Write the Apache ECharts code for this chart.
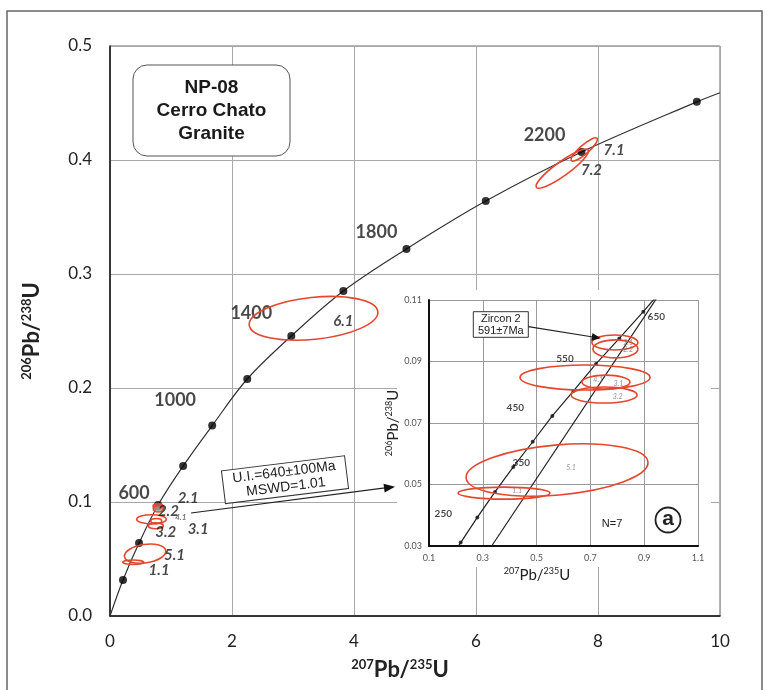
<!DOCTYPE html>
<html>
<head>
<meta charset="utf-8">
<script src="https://cdn.jsdelivr.net/npm/echarts@6/dist/echarts.min.js"></script>
<style>
html, body { margin: 0; padding: 0; background: #fff; }
#main { width: 769px; height: 690px; }
</style>
</head>
<body>
<div id="main"></div>
<script>
// ---------------- data ----------------
// concordia points of the main diagram (Ma, 207Pb/235U, 206Pb/238U)
var mainAges = [200, 400, 600, 800, 1000, 1200, 1400, 1600, 1800, 2000, 2200, 2400];
var mainX = [0.213, 0.476, 0.788, 1.199, 1.675, 2.250, 2.972, 3.826, 4.860, 6.160, 7.730, 9.620];
var mainY = [0.0316, 0.0640, 0.0974, 0.1316, 0.1670, 0.2079, 0.2456, 0.2851, 0.3220, 0.3640, 0.4070, 0.4510];
var mainAgeTags = [600, 1000, 1400, 1800, 2200];
// curve runs from the origin to the right frame
var mainCurveX = [0].concat(mainX, [10.0]);
var mainCurveY = [0].concat(mainY, [0.459]);

// concordia points of inset (a)
var insetAges = [200, 250, 300, 350, 400, 450, 500, 550, 600, 650];
var insetX = [0.2178, 0.2796, 0.3454, 0.4134, 0.4855, 0.5584, 0.6364, 0.7208, 0.8074, 0.8967];
var insetY = [0.0311, 0.0393, 0.0476, 0.0557, 0.0639, 0.0723, 0.0804, 0.0892, 0.0975, 0.1062];
var insetAgeTags = [250, 350, 450, 550, 650];
var insetCurveX = [0.209].concat(insetX, [0.940]);
var insetCurveY = [0.030].concat(insetY, [0.1106]);
// discordia through the data
var discordX = [0.333, 0.9465];
var discordY = [0.030, 0.1106];

// analysed spots: centre, half major axis (dx, dy) and half minor axis
var spotNames = ['1.1', '2.1', '2.2', '3.1', '3.2', '4.1', '5.1', '6.1', '7.1', '7.2'];
var spotX = [0.379, 0.791, 0.793, 0.758, 0.751, 0.680, 0.576, 3.337, 7.775, 7.414];
var spotY = [0.0472, 0.0962, 0.0941, 0.0833, 0.0791, 0.0848, 0.0547, 0.2611, 0.4092, 0.3924];
var spotDx = [0.171, 0.0855, 0.0836, 0.0892, 0.1227, 0.2416, 0.338, 1.054, 0.210, 0.424];
var spotDy = [0, 0, 0, 0, 0, 0, 0.0026, 0.00588, 0.00982, 0.0164];
var spotMinor = [0.00195, 0.00244, 0.00293, 0.00228, 0.0026, 0.00407, 0.00813, 0.0184, 0.00395, 0.00614];

// where the spot names sit
var tagX = [0.805, 1.281, 0.957, 1.445, 0.915, 1.161, 1.056, 3.826, 8.264, 7.893];
var tagY = [0.0404, 0.1032, 0.0923, 0.0763, 0.0734, 0.0865, 0.0533, 0.2590, 0.4088, 0.3912];
var insetTagX = [0.428, 0.840, 0.840, 0.804, 0.801, 0.729, 0.628];
var insetTagY = [0.0480, 0.0960, 0.0937, 0.0829, 0.0784, 0.0842, 0.0553];

var mainTicksX = [0, 10, 2];
var mainTicksY = [0, 0.5, 0.1];
var insetTicksX = [0.1, 1.1, 0.2];
var insetTicksY = [0.03, 0.11, 0.02];

// ---------------- chart ----------------
var chart = echarts.init(document.getElementById('main'));

var red = '#e4472d';
var ageTagOffset = {600: [-24, -12], 1000: [-37, -25], 1400: [-40, -23], 1800: [-30, -17], 2200: [-37, -17]};
var insetTagOffset = {250: [-34, -4], 350: [8, -4], 450: [-37, -8], 550: [-31, -5], 650: [13, 5]};

function ellipseRenderer(inset) {
    return function (params, api) {
        var c = api.coord([api.value(0), api.value(1)]);
        var e = api.coord([api.value(0) + api.value(2), api.value(1) + api.value(3)]);
        var dx = e[0] - c[0], dy = e[1] - c[1];
        var ry = api.size([0, api.value(4)])[1];
        var gray = !inset && spotNames[api.value(5)].charAt(0) === '2';
        return {
            type: 'ellipse',
            x: c[0],
            y: c[1],
            rotation: -Math.atan2(dy, dx),
            shape: {cx: 0, cy: 0, rx: Math.sqrt(dx * dx + dy * dy), ry: ry},
            style: {
                fill: gray ? 'rgba(150,150,150,0.75)' : 'none',
                stroke: red,
                lineWidth: 1.6
            }
        };
    };
}

var spotData = spotNames.map(function (n, i) {
    return [spotX[i], spotY[i], spotDx[i], spotDy[i], spotMinor[i], i];
});

function pairs(xs, ys) {
    return xs.map(function (x, i) { return [x, ys[i]]; });
}

function arrowHead(x0, y0, x1, y1, len, half) {
    var dx = x1 - x0, dy = y1 - y0;
    var l = Math.sqrt(dx * dx + dy * dy);
    var ux = dx / l, uy = dy / l;
    var bx = x1 - ux * len, by = y1 - uy * len;
    return [[x1, y1], [bx - uy * half, by + ux * half], [bx + uy * half, by - ux * half]];
}

var supRich = function (big, small, lh) {
    return {
        s: {fontSize: small, fontWeight: 'bold', fontFamily: 'Lato', color: '#222', verticalAlign: 'top', lineHeight: small + 1},
        b: {fontSize: big, fontWeight: 'bold', fontFamily: 'Lato', color: '#222', lineHeight: lh}
    };
};
var supRichLight = function (big, small, lh) {
    return {
        s: {fontSize: small, fontFamily: 'Lato', color: '#222', verticalAlign: 'top', lineHeight: small + 1},
        b: {fontSize: big, fontFamily: 'Lato', color: '#222', lineHeight: lh}
    };
};

var uiHead = arrowHead(191, 513, 395, 486.7, 11, 4.5);
var zrHead = arrowHead(528.3, 326.7, 600.7, 338.3, 9, 4);

var option = {
    backgroundColor: '#fff',
    animation: false,
    grid: [
        {left: 110, top: 46, width: 610, height: 570, show: true, borderColor: '#666', borderWidth: 1},
        {left: 429, top: 300, width: 269, height: 246}
    ],
    xAxis: [{
        gridIndex: 0, type: 'value',
        min: mainTicksX[0], max: mainTicksX[1], interval: mainTicksX[2],
        axisLine: {show: true, onZero: false, lineStyle: {color: '#111', width: 1.5}},
        axisTick: {show: false},
        splitLine: {lineStyle: {color: '#a8a8a8'}},
        axisLabel: {fontFamily: 'Lato', fontSize: 17, color: '#222', margin: 17},
        name: '{s|207}{b|Pb/}{s|235}{b|U}',
        nameLocation: 'middle',
        nameGap: 42,
        nameTextStyle: {padding: [0, 30, 0, 0], rich: supRich(22, 13, 24)}
    }, {
        gridIndex: 1, type: 'value', z: 3,
        min: insetTicksX[0], max: insetTicksX[1], interval: insetTicksX[2],
        axisLine: {show: true, onZero: false, lineStyle: {color: '#111', width: 2}},
        axisTick: {show: false},
        splitLine: {lineStyle: {color: '#9a9a9a'}},
        axisLabel: {fontFamily: 'Lato', fontSize: 9, color: '#555', margin: 8,
            formatter: function (v) { return v.toFixed(1); }},
        name: '{s|207}{b|Pb/}{s|235}{b|U}',
        nameLocation: 'middle',
        nameGap: 21,
        nameTextStyle: {padding: [0, 53, 0, 0], rich: supRichLight(15, 9, 16)}
    }],
    yAxis: [{
        gridIndex: 0, type: 'value',
        min: mainTicksY[0], max: mainTicksY[1], interval: mainTicksY[2],
        axisLine: {show: true, onZero: false, lineStyle: {color: '#111', width: 1.5}},
        axisTick: {show: false},
        splitLine: {lineStyle: {color: '#a8a8a8'}},
        axisLabel: {fontFamily: 'Lato', fontSize: 17, color: '#222', margin: 18,
            formatter: function (v) { return v.toFixed(1); }},
        name: '{s|206}{b|Pb/}{s|238}{b|U}',
        nameLocation: 'middle',
        nameGap: 66,
        nameTextStyle: {rich: supRich(22, 13, 24)}
    }, {
        gridIndex: 1, type: 'value', z: 3,
        min: insetTicksY[0], max: insetTicksY[1], interval: insetTicksY[2],
        axisLine: {show: true, onZero: false, lineStyle: {color: '#111', width: 2}},
        axisTick: {show: false},
        splitLine: {lineStyle: {color: '#9a9a9a'}},
        axisLabel: {fontFamily: 'Lato', fontSize: 9, color: '#555', margin: 7,
            formatter: function (v) { return v.toFixed(2); }},
        name: '{s|206}{b|Pb/}{s|238}{b|U}',
        nameLocation: 'middle',
        nameGap: 22,
        nameTextStyle: {rich: supRichLight(15, 9, 16)}
    }],
    graphic: [
        // page frame
        {type: 'rect', z: 0, shape: {x: 7, y: 11, width: 755, height: 700},
            style: {fill: 'none', stroke: '#666', lineWidth: 1.5}},
        // sample box
        {type: 'rect', z: 5, shape: {x: 133, y: 65, width: 157, height: 91, r: 14},
            style: {fill: '#fff', stroke: '#555', lineWidth: 1}},
        {type: 'text', z: 6, x: 211.5, y: 110.5,
            style: {text: 'NP-08\nCerro Chato\nGranite', fontFamily: 'Liberation Sans', fontWeight: 'bold',
                fontSize: 19, lineHeight: 23, fill: '#1a1a1a', align: 'center', verticalAlign: 'middle'}},
        // white backing for the inset
        {type: 'rect', z: 1, shape: {x: 397, y: 290, width: 314, height: 277},
            style: {fill: '#fff'}},
        // upper intercept box and arrow
        {type: 'line', z: 6, shape: {x1: 191, y1: 513, x2: uiHead[0][0] - 8, y2: uiHead[0][1] + 1},
            style: {stroke: '#222', lineWidth: 1.2}},
        {type: 'polygon', z: 6, shape: {points: uiHead}, style: {fill: '#111'}},
        {type: 'group', z: 6, x: 285, y: 479.7, rotation: 0.122, children: [
            {type: 'rect', z: 6, shape: {x: -62, y: -16.5, width: 124, height: 33},
                style: {fill: '#fff', stroke: '#333', lineWidth: 1}},
            {type: 'text', z: 7, x: 0, y: 0,
                style: {text: 'U.I.=640±100Ma\nMSWD=1.01', fontFamily: 'Liberation Sans', fontSize: 14,
                    lineHeight: 15, fill: '#222', align: 'center', verticalAlign: 'middle'}}
        ]},
        // zircon 2 call-out in the inset
        {type: 'rect', z: 8, shape: {x: 473.3, y: 311.7, width: 55, height: 25.6},
            style: {fill: '#fff', stroke: '#333', lineWidth: 1}},
        {type: 'text', z: 9, x: 500.8, y: 324.5,
            style: {text: 'Zircon 2\n591±7Ma', fontFamily: 'Liberation Sans', fontSize: 11,
                lineHeight: 12, fill: '#222', align: 'center', verticalAlign: 'middle'}},
        {type: 'line', z: 8, shape: {x1: 528.3, y1: 326.7, x2: 593, y2: 337},
            style: {stroke: '#222', lineWidth: 1.2}},
        {type: 'polygon', z: 8, shape: {points: zrHead}, style: {fill: '#111'}},
        {type: 'text', z: 8, x: 612, y: 524,
            style: {text: 'N=7', fontFamily: 'Liberation Sans', fontSize: 11, fill: '#222',
                align: 'center', verticalAlign: 'middle'}},
        {type: 'circle', z: 8, shape: {cx: 668, cy: 520, r: 12.5},
            style: {fill: '#fff', stroke: '#222', lineWidth: 1.8}},
        {type: 'text', z: 9, x: 668, y: 519,
            style: {text: 'a', fontFamily: 'Liberation Sans', fontWeight: 'bold', fontSize: 21, fill: '#222',
                align: 'center', verticalAlign: 'middle'}}
    ],
    series: [
        // ---------- main diagram ----------
        {
            type: 'line', xAxisIndex: 0, yAxisIndex: 0, z: 2,
            data: pairs(mainCurveX, mainCurveY),
            smooth: 0.35, showSymbol: false,
            lineStyle: {color: '#333', width: 1.2}
        },
        {
            type: 'scatter', xAxisIndex: 0, yAxisIndex: 0, z: 3,
            symbolSize: 8, itemStyle: {color: '#000'},
            data: mainAges.map(function (a, i) {
                var item = {value: [mainX[i], mainY[i], a]};
                if (mainAgeTags.indexOf(a) >= 0) {
                    item.label = {show: true, position: 'inside', offset: ageTagOffset[a],
                        formatter: String(a), fontFamily: 'Lato', fontWeight: 'bold', fontSize: 18, color: '#1a1a1a'};
                }
                return item;
            })
        },
        {
            type: 'custom', xAxisIndex: 0, yAxisIndex: 0, z: 4, clip: true,
            renderItem: ellipseRenderer(false),
            data: spotData
        },
        {
            type: 'scatter', xAxisIndex: 0, yAxisIndex: 0, z: 5,
            symbolSize: 0, silent: true,
            data: spotNames.map(function (n, i) {
                var small = n === '4.1';
                return {
                    value: [tagX[i], tagY[i]],
                    label: {show: true, position: 'inside', formatter: n,
                        fontFamily: 'Lato', fontStyle: 'italic', fontWeight: 'bold',
                        fontSize: small ? 8 : 15, color: small ? '#555' : '#1a1a1a'}
                };
            })
        },
        // ---------- inset (a) ----------
        {
            type: 'line', xAxisIndex: 1, yAxisIndex: 1, z: 4,
            data: pairs(insetCurveX, insetCurveY),
            showSymbol: false,
            lineStyle: {color: '#222', width: 1.2}
        },
        {
            type: 'line', xAxisIndex: 1, yAxisIndex: 1, z: 4,
            data: pairs(discordX, discordY),
            showSymbol: false,
            lineStyle: {color: '#222', width: 1.2}
        },
        {
            type: 'scatter', xAxisIndex: 1, yAxisIndex: 1, z: 5,
            symbolSize: 4, itemStyle: {color: '#111'},
            data: insetAges.map(function (a, i) {
                var item = {value: [insetX[i], insetY[i], a]};
                if (insetAgeTags.indexOf(a) >= 0) {
                    item.label = {show: true, position: 'inside', offset: insetTagOffset[a],
                        formatter: String(a), fontFamily: 'Lato', fontWeight: 'bold', fontSize: 10, color: '#1a1a1a'};
                }
                return item;
            })
        },
        {
            type: 'custom', xAxisIndex: 1, yAxisIndex: 1, z: 6, clip: true,
            renderItem: ellipseRenderer(true),
            data: spotData.filter(function (d) { return d[0] < insetTicksX[1]; })
        },
        {
            type: 'scatter', xAxisIndex: 1, yAxisIndex: 1, z: 7,
            symbolSize: 0, silent: true,
            data: insetTagX.map(function (x, i) {
                return {
                    value: [x, insetTagY[i]],
                    label: {show: true, position: 'inside', formatter: spotNames[i],
                        fontFamily: 'Lato', fontStyle: 'italic', fontSize: 7, color: '#777'}
                };
            })
        }
    ]
};

chart.setOption(option);
</script>
</body>
</html>
